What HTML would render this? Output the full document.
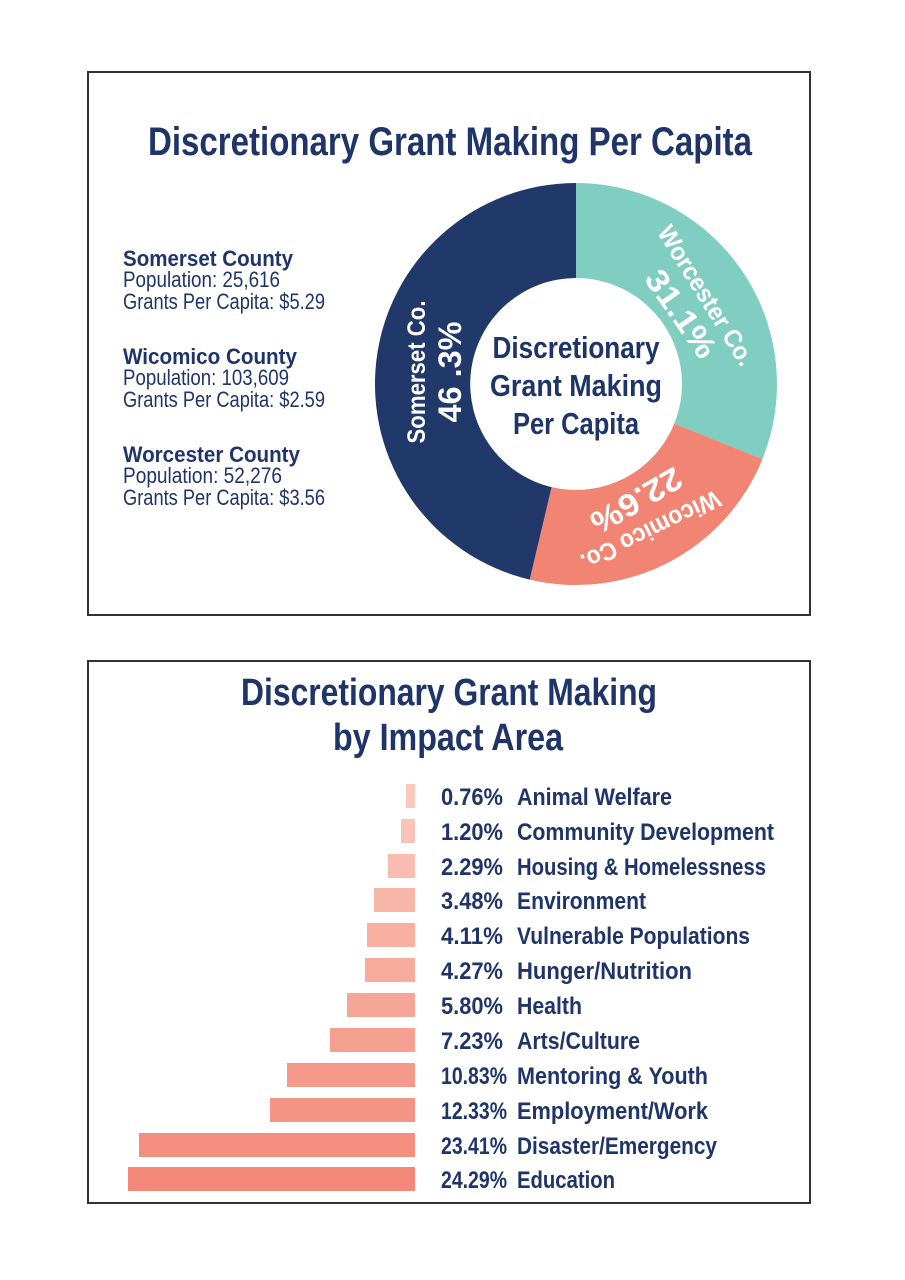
<!DOCTYPE html>
<html><head><meta charset="utf-8"><style>
html,body{margin:0;padding:0;background:#fff;}
svg{display:block;}
text{font-family:"Liberation Sans",sans-serif;}
.b{font-weight:bold;fill:#1f3468;}
.l{fill:#1f3468;}
</style></head><body>
<svg width="905" height="1280" viewBox="0 0 905 1280" xmlns="http://www.w3.org/2000/svg">
<rect x="0" y="0" width="905" height="1280" fill="#fff"/>
<rect x="88" y="72" width="722" height="543" fill="none" stroke="#333" stroke-width="2"/>
<rect x="88" y="661" width="722" height="542" fill="none" stroke="#333" stroke-width="2"/>

<text class="b" x="148" y="155" font-size="40" textLength="604" lengthAdjust="spacingAndGlyphs">Discretionary Grant Making Per Capita</text>

<g font-size="22">
<text class="b" x="123" y="266" textLength="170" lengthAdjust="spacingAndGlyphs">Somerset County</text>
<text class="l" x="123" y="287" textLength="157" lengthAdjust="spacingAndGlyphs">Population: 25,616</text>
<text class="l" x="123" y="309" textLength="202" lengthAdjust="spacingAndGlyphs">Grants Per Capita: $5.29</text>
<text class="b" x="123" y="364" textLength="174" lengthAdjust="spacingAndGlyphs">Wicomico County</text>
<text class="l" x="123" y="385" textLength="166" lengthAdjust="spacingAndGlyphs">Population: 103,609</text>
<text class="l" x="123" y="407" textLength="202" lengthAdjust="spacingAndGlyphs">Grants Per Capita: $2.59</text>
<text class="b" x="123" y="462" textLength="177" lengthAdjust="spacingAndGlyphs">Worcester County</text>
<text class="l" x="123" y="483" textLength="159" lengthAdjust="spacingAndGlyphs">Population: 52,276</text>
<text class="l" x="123" y="505" textLength="202" lengthAdjust="spacingAndGlyphs">Grants Per Capita: $3.56</text>
</g>

<path d="M576,183 A201,201 0 0 1 762.4,459.1 L674.3,423.6 A106,106 0 0 0 576,278 Z" fill="#80cdc1"/>
<path d="M762.4,459.1 A201,201 0 0 1 529.7,579.6 L551.6,487.1 A106,106 0 0 0 674.3,423.6 Z" fill="#f28473"/>
<path d="M529.7,579.6 A201,201 0 0 1 576,183 L576,278 A106,106 0 0 0 551.6,487.1 Z" fill="#21386b"/>

<g font-size="31" text-anchor="middle">
<text class="b" x="576" y="358" textLength="167" lengthAdjust="spacingAndGlyphs">Discretionary</text>
<text class="b" x="576" y="396" textLength="172" lengthAdjust="spacingAndGlyphs">Grant Making</text>
<text class="b" x="576" y="434" textLength="126" lengthAdjust="spacingAndGlyphs">Per Capita</text>
</g>

<g fill="#fff" font-weight="bold" text-anchor="middle">
<text transform="translate(425,372) rotate(-90)" font-size="25" textLength="143" lengthAdjust="spacingAndGlyphs">Somerset Co.</text>
<text transform="translate(461,372) rotate(-90)" font-size="32" textLength="101" lengthAdjust="spacingAndGlyphs">46 .3%</text>
<text transform="translate(699,300) rotate(58)" font-size="25" textLength="160" lengthAdjust="spacingAndGlyphs">Worcester Co.</text>
<text transform="translate(672,320) rotate(55)" font-size="32" textLength="100" lengthAdjust="spacingAndGlyphs">31.1%</text>
<text transform="translate(647,523) rotate(154)" font-size="25" textLength="152" lengthAdjust="spacingAndGlyphs">Wicomico Co.</text>
<text transform="translate(631,491) rotate(150)" font-size="32" textLength="100" lengthAdjust="spacingAndGlyphs">22.6%</text>
</g>

<text class="b" x="241" y="705" font-size="38" textLength="416" lengthAdjust="spacingAndGlyphs">Discretionary Grant Making</text>
<text class="b" x="333" y="750" font-size="38" textLength="230" lengthAdjust="spacingAndGlyphs">by Impact Area</text>

<g font-size="24">
<rect x="406" y="784" width="9" height="24" fill="#f9c9be"/>
<text class="b" x="441" y="805" textLength="62" lengthAdjust="spacingAndGlyphs">0.76%</text>
<text class="b" x="517" y="805" textLength="155" lengthAdjust="spacingAndGlyphs">Animal Welfare</text>

<rect x="401" y="819" width="14" height="24" fill="#f9c4b8"/>
<text class="b" x="441" y="840" textLength="62" lengthAdjust="spacingAndGlyphs">1.20%</text>
<text class="b" x="517" y="840" textLength="257" lengthAdjust="spacingAndGlyphs">Community Development</text>

<rect x="388" y="854" width="27" height="24" fill="#f8bdb0"/>
<text class="b" x="441" y="875" textLength="62" lengthAdjust="spacingAndGlyphs">2.29%</text>
<text class="b" x="517" y="875" textLength="249" lengthAdjust="spacingAndGlyphs">Housing &amp; Homelessness</text>

<rect x="374" y="888" width="41" height="24" fill="#f8b6a9"/>
<text class="b" x="441" y="909" textLength="62" lengthAdjust="spacingAndGlyphs">3.48%</text>
<text class="b" x="517" y="909" textLength="129" lengthAdjust="spacingAndGlyphs">Environment</text>

<rect x="367" y="923" width="48" height="24" fill="#f7b0a2"/>
<text class="b" x="441" y="944" textLength="62" lengthAdjust="spacingAndGlyphs">4.11%</text>
<text class="b" x="517" y="944" textLength="233" lengthAdjust="spacingAndGlyphs">Vulnerable Populations</text>

<rect x="365" y="958" width="50" height="24" fill="#f7ab9d"/>
<text class="b" x="441" y="979" textLength="62" lengthAdjust="spacingAndGlyphs">4.27%</text>
<text class="b" x="517" y="979" textLength="175" lengthAdjust="spacingAndGlyphs">Hunger/Nutrition</text>

<rect x="347" y="993" width="68" height="24" fill="#f6a697"/>
<text class="b" x="441" y="1014" textLength="62" lengthAdjust="spacingAndGlyphs">5.80%</text>
<text class="b" x="517" y="1014" textLength="65" lengthAdjust="spacingAndGlyphs">Health</text>

<rect x="330" y="1028" width="85" height="24" fill="#f6a091"/>
<text class="b" x="441" y="1049" textLength="62" lengthAdjust="spacingAndGlyphs">7.23%</text>
<text class="b" x="517" y="1049" textLength="123" lengthAdjust="spacingAndGlyphs">Arts/Culture</text>

<rect x="287" y="1063" width="128" height="24" fill="#f59a8a"/>
<text class="b" x="441" y="1084" textLength="66" lengthAdjust="spacingAndGlyphs">10.83%</text>
<text class="b" x="517" y="1084" textLength="191" lengthAdjust="spacingAndGlyphs">Mentoring &amp; Youth</text>

<rect x="270" y="1098" width="145" height="24" fill="#f49484"/>
<text class="b" x="441" y="1119" textLength="66" lengthAdjust="spacingAndGlyphs">12.33%</text>
<text class="b" x="517" y="1119" textLength="191" lengthAdjust="spacingAndGlyphs">Employment/Work</text>

<rect x="139" y="1133" width="276" height="24" fill="#f48e7e"/>
<text class="b" x="441" y="1154" textLength="66" lengthAdjust="spacingAndGlyphs">23.41%</text>
<text class="b" x="517" y="1154" textLength="200" lengthAdjust="spacingAndGlyphs">Disaster/Emergency</text>

<rect x="128" y="1167" width="287" height="24" fill="#f38878"/>
<text class="b" x="441" y="1188" textLength="66" lengthAdjust="spacingAndGlyphs">24.29%</text>
<text class="b" x="517" y="1188" textLength="98" lengthAdjust="spacingAndGlyphs">Education</text>
</g>
</svg>
</body></html>
